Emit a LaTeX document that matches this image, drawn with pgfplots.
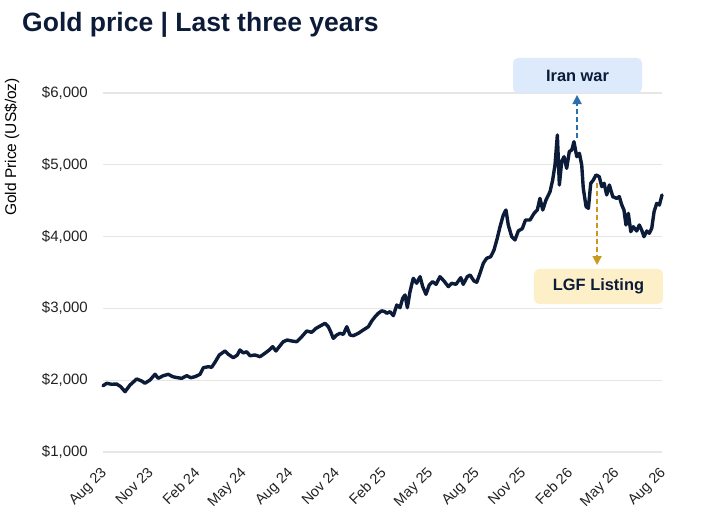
\documentclass[border=0pt]{standalone}
\usepackage{pgfplots}
\pgfplotsset{compat=1.18}
\usepackage{fontspec}
\setmainfont{Liberation Sans}
\usetikzlibrary{arrows.meta}
\definecolor{navy}{HTML}{0B1B38}
\definecolor{gridc}{HTML}{E6E6E6}
\definecolor{iranfill}{HTML}{DDEAFB}
\definecolor{iranarrow}{HTML}{2A6FAE}
\definecolor{lgffill}{HTML}{FDEFC8}
\definecolor{lgfarrow}{HTML}{C99A1E}
\definecolor{ticktext}{HTML}{222222}
\pgfplotstableread{
m v
0.00 1923
0.24 1957
0.56 1943
0.88 1947
1.14 1910
1.42 1840
1.74 1933
2.17 2017
2.49 1989
2.70 1957
3.03 2003
3.35 2082
3.56 2026
3.88 2063
4.21 2082
4.49 2049
4.79 2035
5.07 2026
5.39 2063
5.65 2035
5.93 2049
6.25 2082
6.46 2174
6.78 2188
7.00 2180
7.21 2249
7.49 2351
7.86 2407
8.07 2361
8.39 2313
8.65 2351
8.82 2421
9.04 2380
9.25 2396
9.47 2341
9.79 2351
10.11 2327
10.43 2375
10.71 2421
10.93 2467
11.14 2407
11.35 2467
11.61 2536
11.87 2560
12.15 2546
12.48 2536
12.80 2606
13.12 2685
13.44 2667
13.72 2722
14.02 2759
14.30 2792
14.51 2745
14.66 2676
14.83 2583
15.05 2630
15.26 2653
15.48 2639
15.70 2745
15.91 2630
16.12 2620
16.44 2653
16.76 2699
17.09 2745
17.31 2825
17.52 2884
17.73 2932
17.95 2966
18.16 2954
18.27 2932
18.48 2954
18.70 2899
18.92 3047
19.13 3010
19.30 3141
19.45 3187
19.60 3010
19.77 3233
19.98 3419
20.20 3350
20.42 3442
20.59 3303
20.80 3196
21.01 3326
21.23 3372
21.45 3335
21.70 3442
21.96 3382
22.24 3303
22.46 3350
22.73 3335
23.04 3428
23.20 3335
23.46 3442
23.64 3465
23.89 3382
24.07 3364
24.28 3489
24.49 3628
24.71 3698
24.97 3720
25.18 3813
25.39 3976
25.57 4138
25.78 4301
25.95 4371
26.10 4162
26.32 3999
26.53 3953
26.75 4080
27.00 4110
27.21 4231
27.50 4231
27.76 4324
27.97 4371
28.14 4533
28.32 4371
28.53 4510
28.79 4626
28.96 4789
29.11 5000
29.26 5415
29.39 4719
29.54 5043
29.69 5113
29.86 4951
30.03 5183
30.19 5206
30.33 5322
30.51 5113
30.68 5160
30.83 4997
30.93 4673
31.11 4417
31.26 4394
31.41 4742
31.58 4789
31.75 4858
31.96 4835
32.12 4696
32.27 4742
32.44 4580
32.61 4719
32.83 4556
33.08 4533
33.25 4556
33.41 4440
33.55 4371
33.68 4162
33.83 4324
33.99 4069
34.15 4138
34.37 4078
34.54 4162
34.69 4092
34.84 3999
35.02 4078
35.18 4046
35.34 4116
35.49 4347
35.66 4463
35.83 4440
36.00 4580
}\gold
\begin{document}
\begin{tikzpicture}
\useasboundingbox (0,0) rectangle (703bp,518bp);
\node[anchor=base west, inner sep=0pt, text=navy, font=\fontsize{26.5bp}{30bp}\selectfont\bfseries] at (22bp,486bp) {Gold price | Last three years};
\node[rotate=90, inner sep=0pt, text=black, font=\fontsize{15.5bp}{18bp}\selectfont] at (12bp,371bp) {Gold Price (US\$/oz)};
\begin{axis}[
  at={(103bp,66bp)}, anchor=south west,
  scale only axis, width=559bp, height=359bp,
  xmin=0, xmax=36, ymin=1000, ymax=6000,
  clip=false,
  axis line style={draw=none},
  major tick length=0pt,
  ymajorgrids, grid style={gridc, line width=1.2bp},
  ytick={1000,2000,3000,4000,5000,6000},
  yticklabels={{\$1,000},{\$2,000},{\$3,000},{\$4,000},{\$5,000},{\$6,000}},
  yticklabel style={anchor=east, inner sep=0pt, xshift=-15bp, text=ticktext, font=\fontsize{15bp}{18bp}\selectfont},
  xtick={0,3,...,36},
  xticklabels={Aug 23,Nov 23,Feb 24,May 24,Aug 24,Nov 24,Feb 25,May 25,Aug 25,Nov 25,Feb 26,May 26,Aug 26},
  xticklabel shift=14bp,
  xticklabel style={xshift=-3bp, rotate=45, anchor=north east, inner sep=0pt, text=ticktext, font=\fontsize{14.5bp}{17bp}\selectfont},
]
\addplot[navy, line width=3.4bp, line join=round, line cap=round] table[x=m, y=v] {\gold};
\draw[iranarrow, line width=1.6bp, dash pattern=on 5bp off 3bp, -{Triangle[length=9bp, width=9bp]}] (axis cs:30.53,5373) -- (axis cs:30.53,5972);
\draw[lgfarrow, line width=1.6bp, dash pattern=on 5bp off 3bp, -{Triangle[length=9bp, width=9bp]}] (axis cs:31.82,4747) -- (axis cs:31.82,3604);
\node[fill=iranfill, rounded corners=5bp, minimum width=129bp, minimum height=35bp, inner sep=0pt, text=navy, font=\fontsize{16.4bp}{19bp}\selectfont\bfseries] at (axis cs:30.56,6244) {Iran war};
\node[fill=lgffill, rounded corners=5bp, minimum width=129bp, minimum height=35bp, inner sep=0pt, text=navy, font=\fontsize{16.4bp}{19bp}\selectfont\bfseries] at (axis cs:31.91,3305) {LGF Listing};
\end{axis}
\end{tikzpicture}
\end{document}
